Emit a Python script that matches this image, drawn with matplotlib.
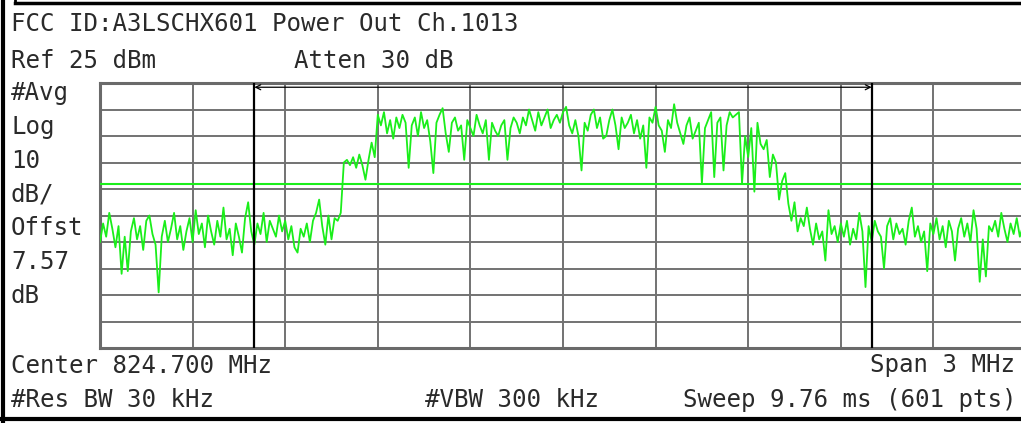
import numpy as np
import matplotlib
matplotlib.use("Agg")
import matplotlib.pyplot as plt
from matplotlib.lines import Line2D

# analyzer settings
center_mhz = 824.7
span_mhz = 3.0
ref_level = 25      # dBm, top of the grid
db_per_div = 10
limit_dbm = -13     # green limit line
marker_lo = 823.7   # black markers (occupied bandwidth)
marker_hi = 825.7

header = "FCC ID:A3LSCHX601 Power Out Ch.1013"
left_labels = ["#Avg", "Log", "10", "dB/", "Offst", "7.57", "dB"]

# trace, one value every 10 kHz from 823.2 MHz (dBm)
trace_dbm = [
    -35, -28, -33, -24, -30, -37, -29, -47, -33, -46,
    -31, -26, -34, -29, -38, -27, -25, -32, -36, -54,
    -33, -27, -35, -30, -24, -34, -29, -38, -31, -26,
    -35, -23, -32, -28, -37, -25, -31, -36, -27, -33,
    -22, -34, -30, -40, -28, -33, -39, -26, -20, -31,
    -36, -28, -32, -24, -35, -27, -30, -33, -25, -31,
    -27, -34, -29, -37, -39, -30, -33, -28, -35, -27,
    -24, -19, -29, -36, -25, -34, -26, -27, -24,
    -5, -4, -6, -3, -7, -2, -6, -11.5, -4, 2.5, -3,
    13, 9, 14, 6, 11, 4, 12, 8, 13, 10,
    -7, 9, 12, 5, 14, 8, 11, 3, -9, 10,
    13, 15.5, 6, -1, 10, 12, 7, 9, -4, 11,
    8, 5, 13, 9, 6, 11, -4, 10, 7, 5,
    9, 11, -4, 8, 12, 10, 6, 12, 9, 15,
    11, 7, 14, 9, 12, 15, 8, 11, 13, 10,
    14, 16, 9, 6, 11, 5, -8, 10, 7, 13,
    15, 8, 12, 4, 5, 11, 15, 9, 0, 12,
    8, 10, 13, 6, 11, 4, 9, -7, 12, 10,
    16, 9, 7, -1, 11, 8, 17, 10, 6, 2,
    9, 12, 4, 7, 10, -13, 8, 11, 14, -10.5,
    10, 12, -8, 9, 14, 12, 13, 14, -13, 5,
    -3, 8, -16, 10, 2, 0, 3.5, -10.5, -2, -5,
    -19, -12, -9, -20.5, -27, -20, -31, -26, -29, -22,
    -30, -36, -28, -34, -31, -42, -23, -32, -29, -35,
    -28, -33, -27, -36, -30, -34, -24, -31, -52, -29,
    -35, -27, -31, -33, -45, -29, -26, -34, -28, -32,
    -30, -36, -27, -22, -33, -29, -35, -31, -46, -28,
    -32, -26, -34, -29, -37, -27, -31, -42, -30, -26,
    -33, -28, -35, -23, -30, -50, -34, -48, -29, -31,
    -27, -33, -24, -30, -35, -28, -32, -26, -33, -29, -31,
]

W, H = 1021, 423
start = center_mhz - span_mhz / 2
freqs = start + 0.01 * np.arange(len(trace_dbm))

fig = plt.figure(figsize=(W / 100, H / 100), dpi=100)
fig.patch.set_facecolor("white")

# grid area in pixels: x 100..1026 (runs past the right edge), y 83..348
ax = fig.add_axes([100 / W, 1 - 348 / H, 926 / W, 265 / H])
ax.set_xlim(start, start + span_mhz)
ax.set_ylim(ref_level - 10 * db_per_div, ref_level)
ax.set_xticks([])
ax.set_yticks([])
for s in ax.spines.values():
    s.set_color("#6a6a6a")
    s.set_linewidth(2.2)

grid_col = "#727272"
for k in range(1, 10):
    ax.axvline(start + k * span_mhz / 10, color=grid_col, lw=1.4, zorder=1)
    ax.axhline(ref_level - k * db_per_div, color=grid_col, lw=1.4, zorder=1)

green = "#1aee1a"
ax.axhline(limit_dbm, color=green, lw=1.5, zorder=3)
ax.plot(freqs, trace_dbm, color=green, lw=1.3, zorder=4)

# occupied bandwidth markers
for m in (marker_lo, marker_hi):
    ax.axvline(m, color="black", lw=1.6, zorder=5)
ax.annotate("", xy=(marker_lo, 23.4), xytext=(marker_hi, 23.4),
            arrowprops=dict(arrowstyle="<->", color="black", lw=0.9,
                            mutation_scale=9, shrinkA=0, shrinkB=0),
            zorder=5)


def px_text(x, y, s, ha="left"):
    fig.text(x / W, 1 - y / H, s, ha=ha, va="center",
             family="DejaVu Sans Mono", fontsize=17.4, color="#2a2a2a")


px_text(11, 24, header)
px_text(11, 61, "Ref 25 dBm")
px_text(294, 61, "Atten 30 dB")
for i, lab in enumerate(left_labels):
    px_text(11, 93 + i * 33.8, lab)
px_text(11, 366, "Center 824.700 MHz")
px_text(1015, 365, "Span 3 MHz", ha="right")
px_text(11, 400, "#Res BW 30 kHz")
px_text(425, 400, "#VBW 300 kHz")
px_text(1016, 400, "Sweep 9.76 ms (601 pts)", ha="right")


# outer frame of the screen
def px_line(x0, y0, x1, y1, lw):
    fig.add_artist(Line2D([x0 / W, x1 / W], [1 - y0 / H, 1 - y1 / H],
                          transform=fig.transFigure, color="black", lw=lw))


px_line(2.5, 0, 2.5, H, 3)
px_line(15, 3, W, 3, 2.5)
px_line(15, 0, 15, 3, 2)
px_line(0, 418.5, W, 418.5, 3)

fig.savefig("out.png", dpi=100)
